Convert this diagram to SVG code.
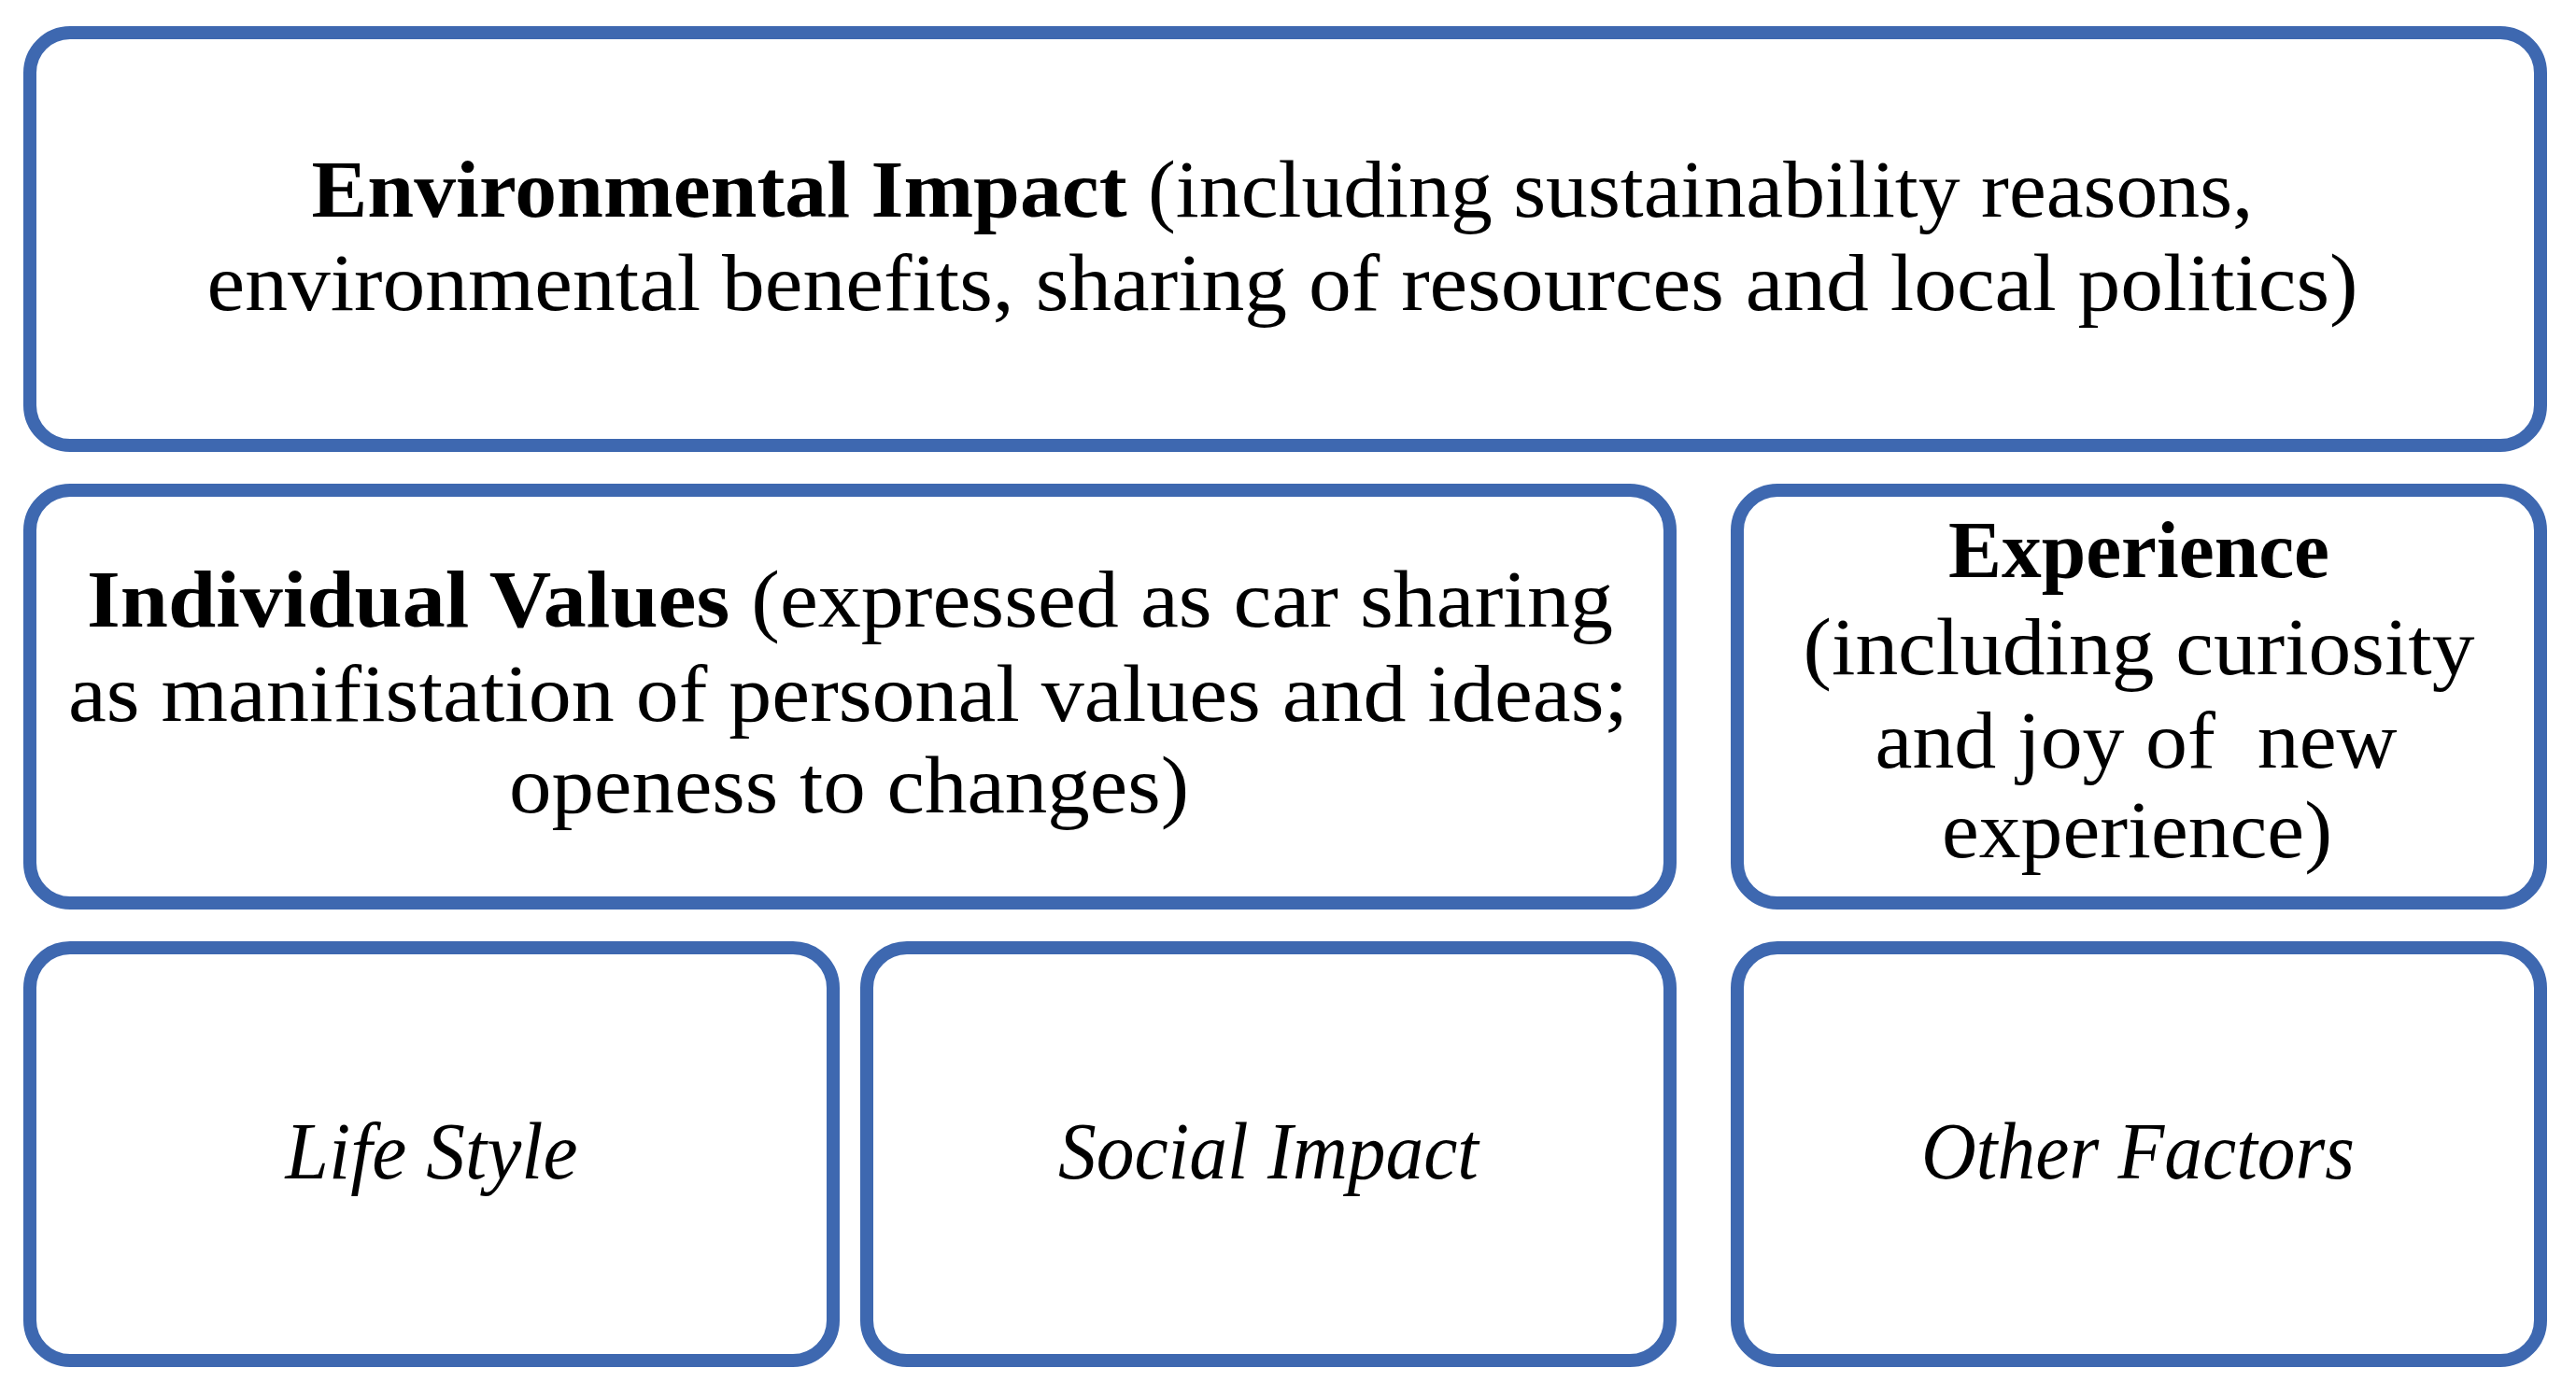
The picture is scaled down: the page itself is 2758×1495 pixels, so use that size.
<svg xmlns="http://www.w3.org/2000/svg" width="2758" height="1495" viewBox="0 0 2758 1495">
<style>
.box{fill:#ffffff;stroke:#3E68B0;stroke-width:14}
.t{font-family:"Liberation Serif","Times New Roman",serif;font-size:86px;fill:#000;text-anchor:middle}
.b{font-weight:bold}
.i{font-style:italic}
</style>
<rect x="0" y="0" width="2758" height="1495" fill="#ffffff"/>
<g id="connectors"></g>
<g id="environmental-impact">
<rect class="box" x="32" y="35" width="2688" height="442" rx="43" ry="43"/>
<text class="t" x="1373" y="232" textLength="2079" lengthAdjust="spacingAndGlyphs"><tspan class="b">Environmental Impact</tspan> (including sustainability reasons,</text>
<text class="t" x="1373" y="332" textLength="2303" lengthAdjust="spacingAndGlyphs">environmental benefits, sharing of resources and local politics)</text>
</g>
<g id="individual-values">
<rect class="box" x="32" y="525" width="1756" height="442" rx="43" ry="43"/>
<text class="t" x="910" y="671" textLength="1634" lengthAdjust="spacingAndGlyphs"><tspan class="b">Individual Values</tspan> (expressed as car sharing</text>
<text class="t" x="908" y="772" textLength="1670" lengthAdjust="spacingAndGlyphs">as manifistation of personal values and ideas;</text>
<text class="t" x="909" y="870" textLength="728" lengthAdjust="spacingAndGlyphs">openess to changes)</text>
</g>
<g id="experience">
<rect class="box" x="1860" y="525" width="860" height="442" rx="43" ry="43"/>
<text class="t b" x="2290" y="618" textLength="408" lengthAdjust="spacingAndGlyphs">Experience</text>
<text class="t" x="2290" y="722" textLength="719" lengthAdjust="spacingAndGlyphs">(including curiosity</text>
<text class="t" x="2287" y="822" textLength="559" lengthAdjust="spacingAndGlyphs" xml:space="preserve">and joy of  new</text>
<text class="t" x="2288" y="918" textLength="418" lengthAdjust="spacingAndGlyphs">experience)</text>
</g>
<g id="life-style">
<rect class="box" x="32" y="1015" width="860" height="442" rx="43" ry="43"/>
<text class="t i" x="462" y="1262" textLength="313" lengthAdjust="spacingAndGlyphs">Life Style</text>
</g>
<g id="social-impact">
<rect class="box" x="928" y="1015" width="860" height="442" rx="43" ry="43"/>
<text class="t i" x="1358" y="1262" textLength="450" lengthAdjust="spacingAndGlyphs">Social Impact</text>
</g>
<g id="other-factors">
<rect class="box" x="1860" y="1015" width="860" height="442" rx="43" ry="43"/>
<text class="t i" x="2289" y="1262" textLength="464" lengthAdjust="spacingAndGlyphs">Other Factors</text>
</g>
</svg>
